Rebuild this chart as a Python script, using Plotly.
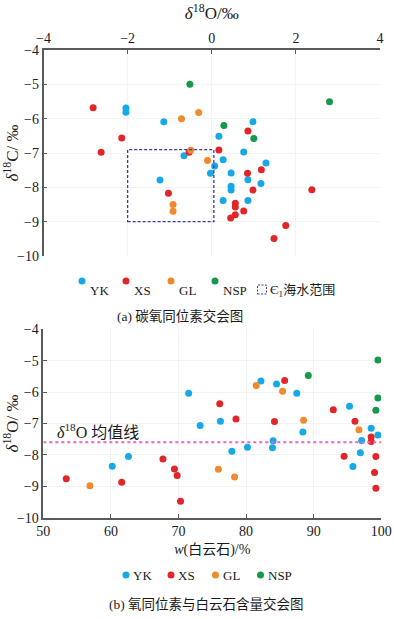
import plotly.graph_objects as go

# ---------------- data ----------------
series = ["YK", "XS", "GL", "NSP"]
colors = {"YK": "#17a9e6", "XS": "#e1262a", "GL": "#f08a2e", "NSP": "#15994b"}

# (a) carbon-oxygen isotope cross plot: x = δ18O, y = δ13C (labelled δ18C)
a_YK_x = [-2.04, -2.04, -1.14, 0.98, 0.17, -0.66, -1.23, 0.27, 0.07, -0.03, 0.76, 1.29, 0.46, 0.86, 1.17, 0.46, 0.46, 0.27, 0.86]
a_YK_y = [-5.69, -5.81, -6.09, -6.09, -6.51, -7.08, -7.79, -7.20, -7.38, -7.59, -6.97, -7.29, -7.58, -7.78, -7.89, -7.97, -8.08, -8.38, -8.38]
a_XS_x = [-2.82, -2.14, 0.86, -2.63, -0.54, -1.03, 0.17, 1.18, 0.85, 0.98, 2.38, 0.56, 0.56, 0.76, 0.56, 0.45, 1.76, 1.48]
a_XS_y = [-5.68, -6.56, -6.36, -6.98, -6.98, -8.17, -6.91, -7.49, -7.59, -8.08, -8.07, -8.46, -8.57, -8.69, -8.80, -8.89, -9.11, -9.49]
a_GL_x = [-0.72, -0.31, -0.50, -0.10, -0.92, -0.92]
a_GL_y = [-6.00, -5.82, -6.92, -7.22, -8.50, -8.70]
a_NSP_x = [-0.52, 2.80, 0.29, 1.00]
a_NSP_y = [-5.00, -5.51, -6.20, -6.58]

# Cambrian (Є1) seawater range box
box_o18 = [-2.0, 0.05]
box_c13 = [-9.0, -6.9]

# (b) δ18O vs dolomite content
b_YK_x = [71.5, 73.2, 62.6, 60.2, 76.2, 77.9, 80.2, 82.2, 84.5, 87.5, 84.0, 83.9, 88.4, 95.3, 98.5, 99.5, 97.1, 96.9, 95.8]
b_YK_y = [-6.04, -7.06, -8.05, -8.36, -6.93, -7.88, -7.76, -5.65, -5.74, -6.04, -7.55, -7.77, -7.27, -6.45, -7.15, -7.37, -7.54, -7.93, -8.37]
b_XS_x = [67.7, 53.4, 61.6, 69.4, 69.8, 70.3, 76.1, 78.5, 85.7, 84.2, 92.9, 96.1, 98.5, 98.5, 94.5, 99.2, 99.0, 99.2]
b_XS_y = [-8.13, -8.76, -8.87, -8.45, -8.66, -9.48, -6.37, -6.86, -5.63, -6.94, -6.56, -6.93, -7.43, -7.57, -8.04, -8.05, -8.56, -9.06]
b_GL_x = [56.9, 81.5, 85.4, 88.5, 96.7, 75.9, 78.3]
b_GL_y = [-8.98, -5.79, -5.97, -6.90, -7.20, -8.46, -8.70]
b_NSP_x = [89.2, 99.5, 99.5, 99.2]
b_NSP_y = [-5.47, -4.98, -6.19, -6.58]

mean_o18 = -7.6
dolomite_range = [50, 100]

a_data = {"YK": (a_YK_x, a_YK_y), "XS": (a_XS_x, a_XS_y), "GL": (a_GL_x, a_GL_y), "NSP": (a_NSP_x, a_NSP_y)}
b_data = {"YK": (b_YK_x, b_YK_y), "XS": (b_XS_x, b_XS_y), "GL": (b_GL_x, b_GL_y), "NSP": (b_NSP_x, b_NSP_y)}

# ---------------- figure ----------------
W, H = 394, 619
FONT = "Liberation Serif, Noto Sans CJK SC, serif"
AXC = "#5a5a5a"
TXT = "#1a1a1a"


def pxx(p):
    return p / W


def pxy(p):
    return 1 - p / H


fig = go.Figure()
for s in series:
    x, y = a_data[s]
    fig.add_trace(go.Scatter(x=x, y=y, mode="markers", name=s, showlegend=False,
                             marker=dict(size=7, color=colors[s]), xaxis="x", yaxis="y"))
for s in series:
    x, y = b_data[s]
    fig.add_trace(go.Scatter(x=x, y=y, mode="markers", name=s, showlegend=False,
                             marker=dict(size=7, color=colors[s]), xaxis="x2", yaxis="y2"))

axis_common = dict(showline=True, linecolor=AXC, linewidth=1.5, ticks="inside", ticklen=4,
                   tickcolor=AXC, tickwidth=1.2, showgrid=True, gridcolor="#f3f3f3", gridwidth=1,
                   zeroline=False, automargin=False,
                   tickfont=dict(family=FONT, size=14, color=TXT),
                   title_font=dict(family=FONT, size=17, color=TXT))

fig.update_layout(
    width=W, height=H, margin=dict(l=0, r=0, t=0, b=0),
    paper_bgcolor="white", plot_bgcolor="white",
    font=dict(family=FONT, color=TXT),
    xaxis=dict(axis_common, domain=[pxx(43.5), pxx(380)], anchor="y", side="top",
               range=[-4, 4], dtick=2,
               title=dict(text="<i>δ</i><sup>18</sup>O/‰", standoff=7)),
    yaxis=dict(axis_common, domain=[pxy(256), pxy(50)], anchor="x",
               range=[-10, -4], dtick=1,
               title=dict(text="<i>δ</i><sup>18</sup>C/ ‰", standoff=2)),
    xaxis2=dict(axis_common, domain=[pxx(43.3), pxx(381.3)], anchor="y2",
                range=[50, 100], dtick=10,
                title=dict(text="<i>w</i>(白云石)/%", standoff=6,
                           font=dict(family=FONT, size=14, color=TXT))),
    yaxis2=dict(axis_common, domain=[pxy(517.7), pxy(329.3)], anchor="x2",
                range=[-10, -4], dtick=1,
                title=dict(text="<i>δ</i><sup>18</sup>O/ ‰", standoff=2)),
)

# seawater box (a)
fig.add_shape(type="rect", xref="x", yref="y", x0=box_o18[0], x1=box_o18[1],
              y0=box_c13[0], y1=box_c13[1],
              line=dict(color="#3838b0", width=1.3, dash="3px,2px"), fillcolor="rgba(0,0,0,0)")

# mean line (b)
fig.add_shape(type="line", xref="x2", yref="y2", x0=dolomite_range[0], x1=dolomite_range[1],
              y0=mean_o18, y1=mean_o18,
              line=dict(color="#f05fc6", width=2, dash="dot"))
fig.add_annotation(xref="x2", yref="y2", x=51.7, y=-7.25, xanchor="left", yanchor="middle",
                   text="<i>δ</i><sup>18</sup>O 均值线", showarrow=False,
                   font=dict(family=FONT, size=16, color=TXT))

# ---------------- legends ----------------
def legend_row(mark_x, text_x, mark_y, text_y, names):
    for mx, tx, nm in zip(mark_x, text_x, names):
        fig.add_shape(type="circle", xref="paper", yref="paper",
                      xsizemode="pixel", ysizemode="pixel",
                      xanchor=pxx(mx), yanchor=pxy(mark_y),
                      x0=-3.5, x1=3.5, y0=-3.5, y1=3.5,
                      fillcolor=colors[nm], line=dict(width=0))
        fig.add_annotation(xref="paper", yref="paper", x=pxx(tx), y=pxy(text_y),
                           xanchor="left", yanchor="middle", text=nm, showarrow=False,
                           font=dict(family=FONT, size=13, color=TXT))


legend_row([82, 126, 171, 215], [88, 132, 177, 221], 281, 290, series)
# box legend item
fig.add_shape(type="rect", xref="paper", yref="paper", xsizemode="pixel", ysizemode="pixel",
              xanchor=pxx(262), yanchor=pxy(289.5), x0=-4.5, x1=4.5, y0=-4.5, y1=4.5,
              line=dict(color="#3838b0", width=1, dash="2px,1.5px"), fillcolor="rgba(0,0,0,0)")
fig.add_annotation(xref="paper", yref="paper", x=pxx(268), y=pxy(290), xanchor="left", yanchor="middle",
                   text="Є<sub>1</sub>海水范围", showarrow=False,
                   font=dict(family=FONT, size=13, color=TXT))

legend_row([126, 171, 215.5, 260.5], [131, 176, 220.5, 265.5], 575, 575.5, series)

# captions
fig.add_annotation(xref="paper", yref="paper", x=pxx(179.5), y=pxy(316), xanchor="center", yanchor="middle",
                   text="(a) 碳氧同位素交会图", showarrow=False,
                   font=dict(family=FONT, size=13.5, color=TXT))
fig.add_annotation(xref="paper", yref="paper", x=pxx(206.5), y=pxy(604), xanchor="center", yanchor="middle",
                   text="(b) 氧同位素与白云石含量交会图", showarrow=False,
                   font=dict(family=FONT, size=13.5, color=TXT))

# remove the default 8px page margin so the figure fills the window exactly
fig.write_html("out.html", config={"displayModeBar": False},
               post_script="document.body.style.margin='0';")
